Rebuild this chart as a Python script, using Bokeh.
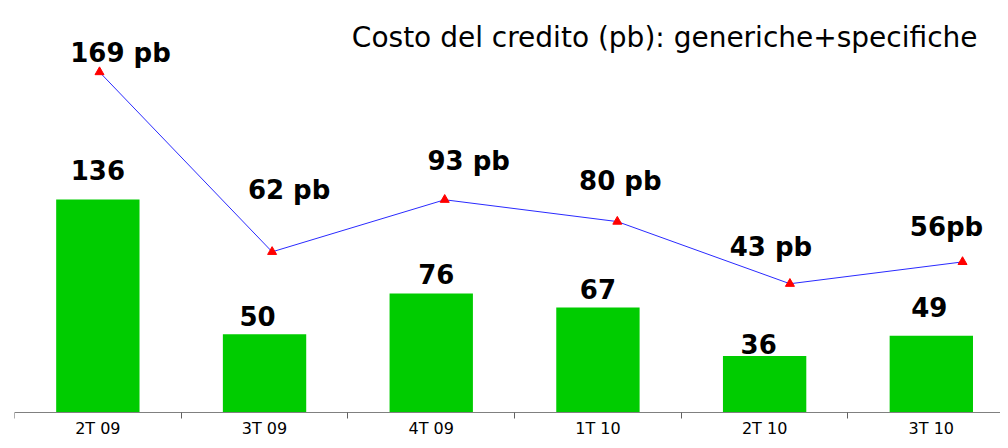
from bokeh.plotting import figure
from bokeh.models import Range1d, LinearAxis, FixedTicker, ColumnDataSource, Label
from bokeh.core.properties import value
from bokeh.embed import file_html
from bokeh.resources import INLINE

# ---- data ----
categories = ["2T 09", "3T 09", "4T 09", "1T 10", "2T 10", "3T 10"]
bar_values = [136, 50, 76, 67, 36, 49]
line_values = [169, 62, 93, 80, 43, 56]
line_labels = ["169 pb", "62 pb", "93 pb", "80 pb", "43 pb", "56pb"]
title_text = "Costo del credito (pb): generiche+specifiche"

# ---- label offsets (pixels) ----
bar_label_dx = [0, -7, 5, 0, -6, -2]
bar_label_dy = [-30, -18, -19, -19, -12, -29]
line_label_dx = [21, 17, 24, 3, -19, -16]
line_label_dy = [-19, -62, -39, -41, -37, -35]

n = len(categories)
bar_x = [i + 0.5 for i in range(n)]
line_x = list(range(n))

bar_src = ColumnDataSource(dict(x=bar_x, top=bar_values,
                                lbl=[str(v) for v in bar_values],
                                dx=bar_label_dx, dy=bar_label_dy))
line_src = ColumnDataSource(dict(x=line_x, y=line_values, lbl=line_labels,
                                 dx=line_label_dx, dy=line_label_dy))

p = figure(width=1000, height=440, output_backend="svg", toolbar_location=None,
           x_range=Range1d(0, 5.915), y_range=Range1d(-17.9, 263.1),
           x_axis_location=None, y_axis_location=None,
           min_border_left=14, min_border_right=0, min_border_top=0, min_border_bottom=0)
p.extra_x_ranges = {"line": Range1d(-0.4925, 5.220)}
p.extra_y_ranges = {"line": Range1d(-50.3, 211.6)}
p.outline_line_color = None
p.xgrid.visible = False
p.ygrid.visible = False
p.background_fill_color = "white"
p.border_fill_color = "white"

p.vbar(x="x", top="top", bottom=0, width=0.5, source=bar_src,
       fill_color="#00CC00", line_color=None)

p.text(x="x", y="top", text="lbl", x_offset="dx", y_offset="dy", source=bar_src,
       text_font=value("DejaVu Sans"), text_font_style="bold", text_font_size="26px",
       text_align="center", text_baseline="alphabetic", text_color="black")

p.line(x="x", y="y", source=line_src, x_range_name="line", y_range_name="line",
       line_color="#2a2aff", line_width=1)
p.scatter(x="x", y="y", source=line_src, x_range_name="line", y_range_name="line",
          marker="triangle", size=9, fill_color="#ff0000", line_color="#ff0000")
p.text(x="x", y="y", text="lbl", x_offset="dx", y_offset="dy", source=line_src,
       x_range_name="line", y_range_name="line",
       text_font=value("DejaVu Sans"), text_font_style="bold", text_font_size="26px",
       text_align="center", text_baseline="alphabetic", text_color="black")

ticker = FixedTicker(ticks=bar_x, minor_ticks=list(range(n)))
xaxis = LinearAxis(ticker=ticker, fixed_location=0,
                   major_label_overrides={bx: c for bx, c in zip(bar_x, categories)})
xaxis.axis_line_color = "#808080"
xaxis.axis_line_width = 1
xaxis.major_tick_line_color = None
xaxis.major_tick_in = 0
xaxis.major_tick_out = 0
xaxis.minor_tick_line_color = "#606060"
xaxis.minor_tick_in = 0
xaxis.minor_tick_out = 6
xaxis.major_label_text_font = "DejaVu Sans"
xaxis.major_label_text_font_size = "16px"
xaxis.major_label_text_color = "black"
xaxis.major_label_standoff = 1
p.add_layout(xaxis, "below")

title = Label(x=5.777, y=239.7, text=title_text, text_align="right",
              text_baseline="alphabetic", text_font="DejaVu Sans",
              text_font_size="28px", text_color="black")
p.add_layout(title)

open("out.html", "w").write(file_html(p, INLINE))
